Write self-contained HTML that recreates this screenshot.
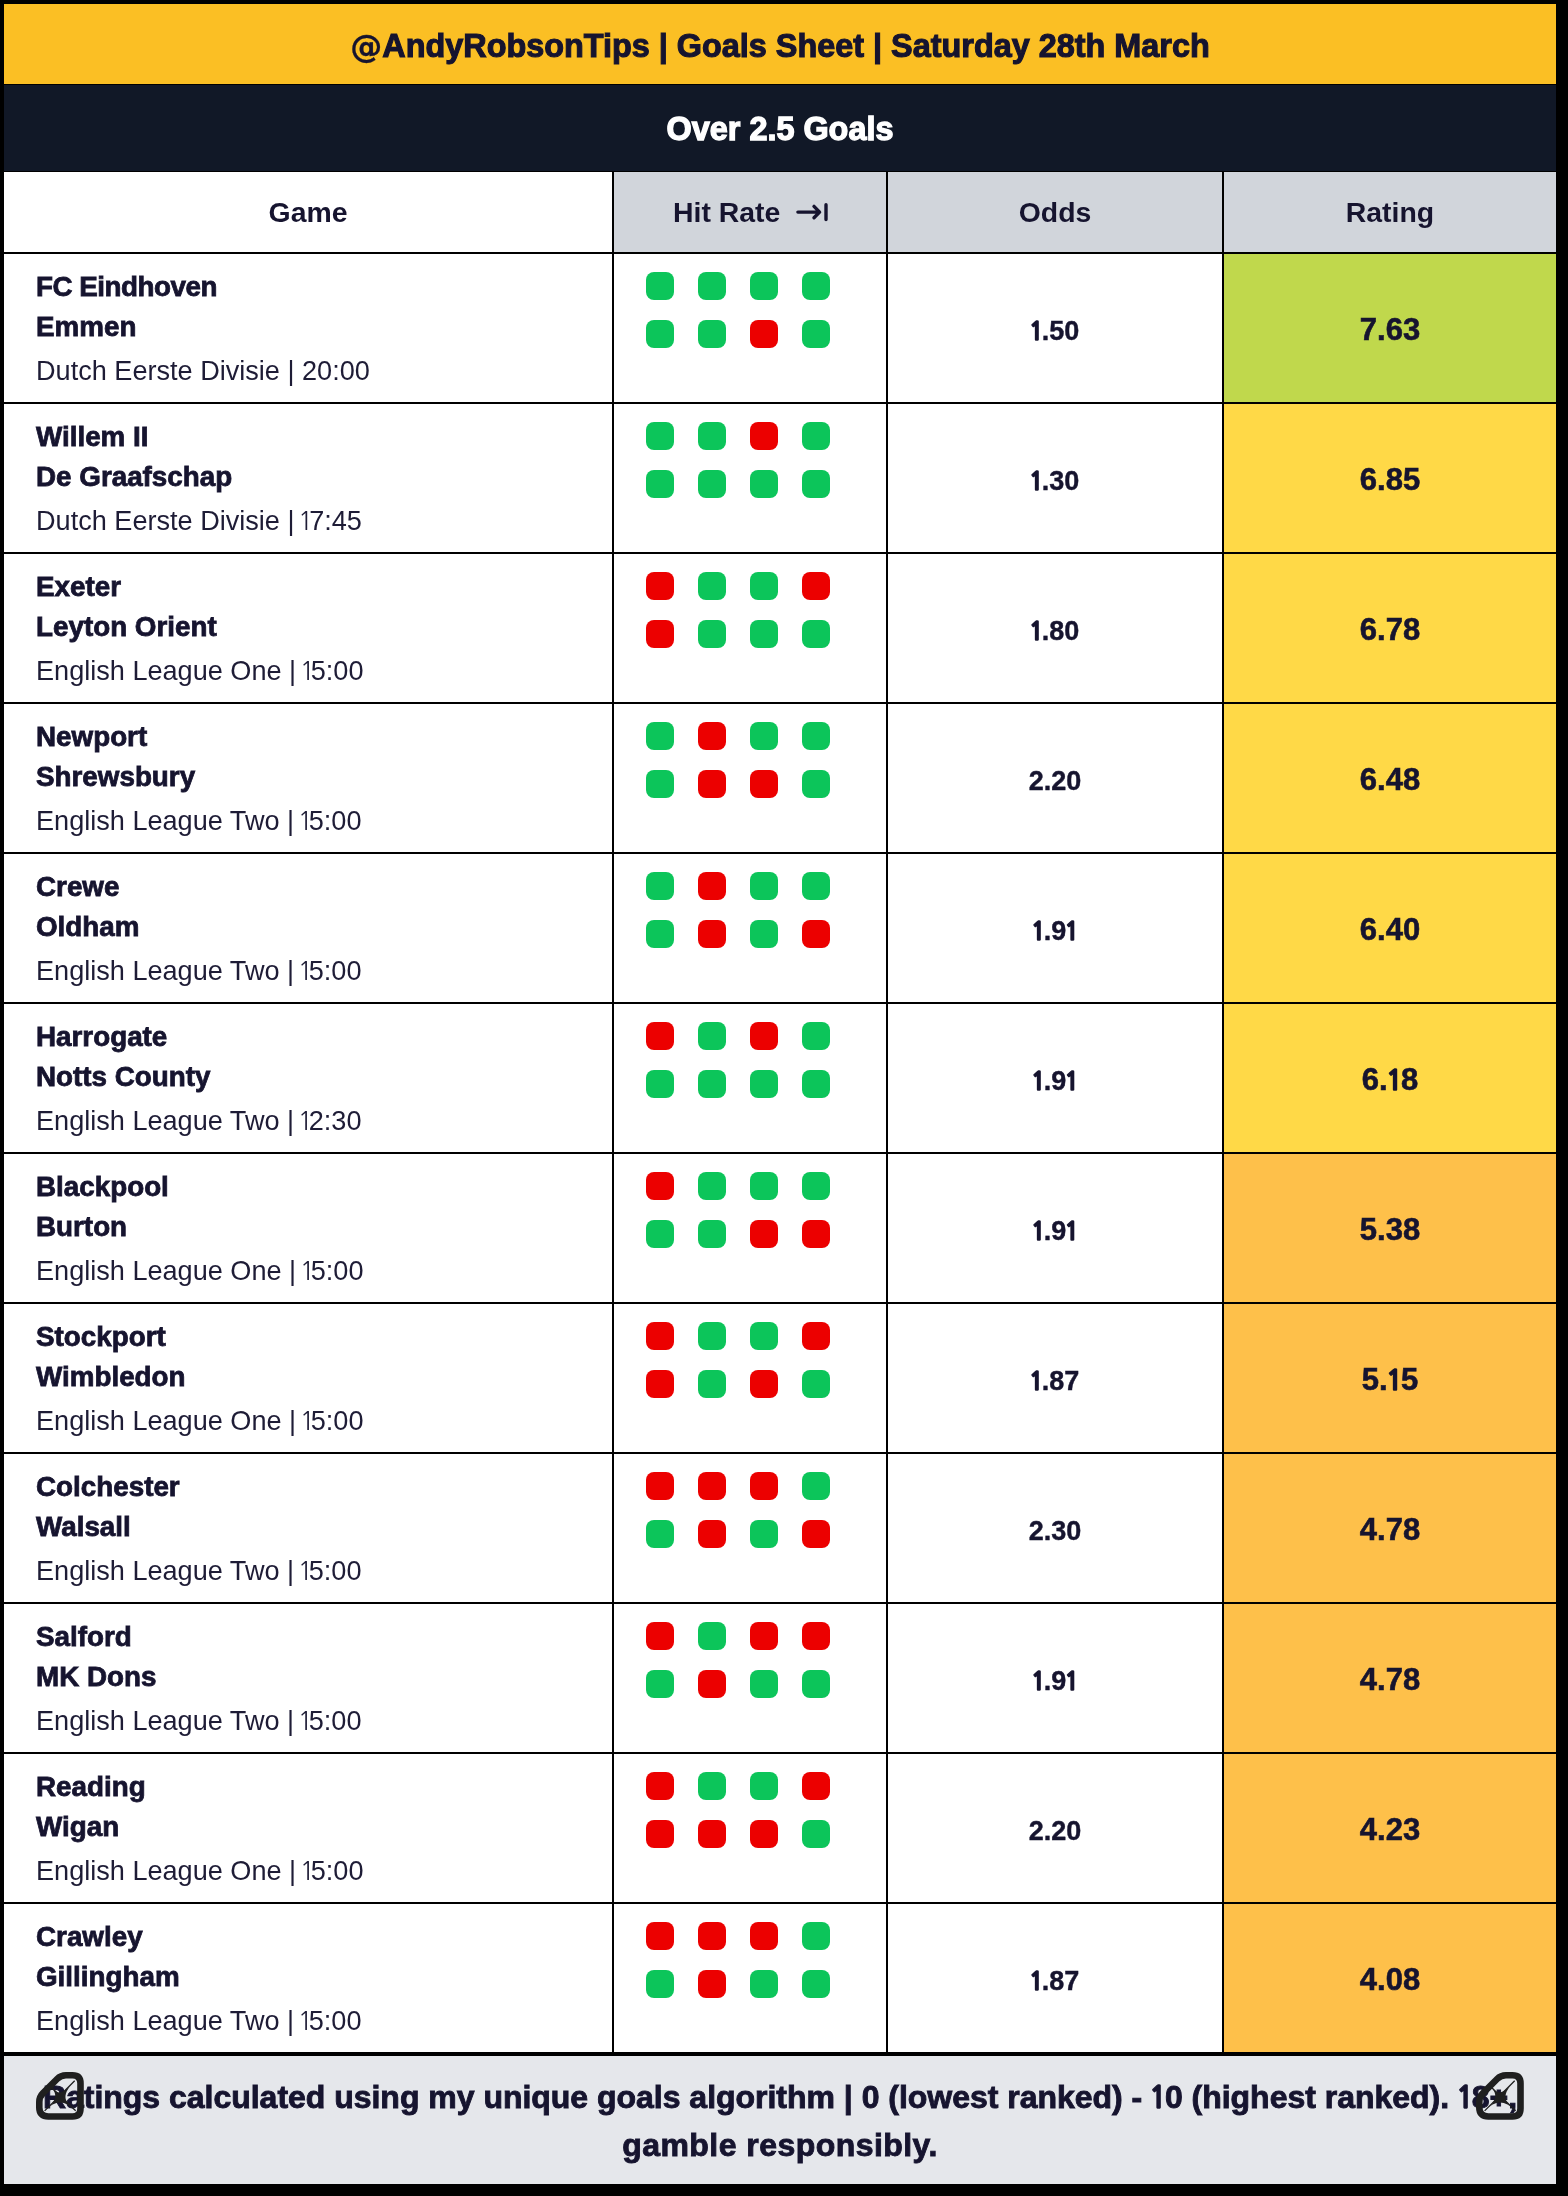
<!DOCTYPE html>
<html>
<head>
<meta charset="utf-8">
<style>
html,body{margin:0;padding:0;}
body{width:1568px;height:2196px;background:#000;position:relative;overflow:hidden;font-family:"Liberation Sans",Arial,sans-serif;color:#16142f;}
.card{position:absolute;left:4px;top:4px;width:1552px;height:2180px;background:#fff;overflow:hidden;}
.title{position:absolute;left:0;top:0;width:1552px;height:80px;background:#fbbf24;}
.title span{position:absolute;left:0;width:1552px;text-align:center;top:26px;font-size:32.4px;line-height:32px;font-weight:700;white-space:nowrap;}
.sub{position:absolute;left:0;top:80px;width:1552px;height:86px;background:#111827;border-top:1px solid #000;border-bottom:1px solid #000;}
.sub span{position:absolute;left:0;width:1552px;text-align:center;top:28px;font-size:32.4px;line-height:33px;font-weight:700;color:#fff;white-space:nowrap;}
.hdr{position:absolute;left:0;top:168px;width:1552px;height:80px;z-index:1;}
.row{position:absolute;left:0;width:1552px;height:148px;}
.c{position:absolute;top:0;height:100%;}
.c1{left:0;width:608px;background:#fff;}
.c2{left:610px;width:272px;background:#fff;}
.c3{left:884px;width:334px;background:#fff;}
.c4{left:1220px;width:332px;background:#fff;}
.hdr .c{background:#d1d5db;}
.hdr .c1{background:#fff;}
.hdr .c span{position:absolute;left:0;right:0;text-align:center;top:26px;font-size:28.4px;line-height:28px;font-weight:700;white-space:nowrap;}
.lines{position:absolute;left:0;top:168px;width:1552px;height:1884px;background:#000;}
.t{position:absolute;left:32px;font-size:27.8px;line-height:27px;font-weight:700;white-space:nowrap;}
.t1{top:19px;}
.t2{top:59px;}
.lg{position:absolute;left:32px;top:103px;font-size:27.1px;line-height:28px;font-weight:400;white-space:nowrap;color:#1e1c36;}
.dots{position:absolute;left:32px;top:18px;width:184px;height:76px;}
.d{position:absolute;width:28px;height:28px;border-radius:8px;background:#0cc55a;}
.d.r{background:#ec0000;}
.odds{position:absolute;left:0;right:0;text-align:center;top:64px;font-size:27px;line-height:27px;font-weight:700;}
.rt{position:absolute;left:0;right:0;text-align:center;top:60px;font-size:31px;line-height:31px;font-weight:700;}
.g{background:#c0d84c !important;}
.y{background:#ffd947 !important;}
.o{background:#fec04a !important;}
.foot{position:absolute;left:0;top:2052px;width:1552px;height:128px;background:#e5e7eb;}
.foot p{position:absolute;left:0;width:1552px;margin:0;text-align:center;font-size:32px;line-height:32px;letter-spacing:-0.02px;font-weight:700;white-space:nowrap;}
.ico{position:absolute;left:0;top:0;}
.fi{position:absolute;top:16px;width:48px;height:48px;overflow:visible;}
.title span{-webkit-text-stroke:1.1px #16142f;}
.sub span{-webkit-text-stroke:1.3px #fff;}
.hdr .c span{-webkit-text-stroke:0px #16142f;}
.t{-webkit-text-stroke:0.8px #16142f;}
.rt{-webkit-text-stroke:0.6px #16142f;}
.odds{-webkit-text-stroke:0.4px #16142f;}
.foot p{-webkit-text-stroke:0.9px #16142f;}
.n1{font-family:"NanumGothic","WenQuanYi Zen Hei",sans-serif;line-height:0;margin:0 -2px;font-size:0.92em;}
.lg .n1{margin:0 -4px;}
.odds .n1,.rt .n1,.foot .n1{-webkit-text-stroke-width:1.3px;}
.title span,.sub span,.hdr span,.t,.lg,.odds,.rt,.foot p{will-change:transform;}
.title .at{font-family:"DejaVu Sans",sans-serif;font-size:32px;-webkit-text-stroke:0.3px #16142f;line-height:0;position:static;}
</style>
</head>
<body>
<div class="card">
  <div class="title"><span><span class="at">@</span>AndyRobsonTips | Goals Sheet | Saturday 28th March</span></div>
  <div class="sub"><span>Over 2.5 Goals</span></div>
  <div class="hdr">
    <div class="c c1"><span>Game</span></div>
    <div class="c c2"><span style="left:59px;right:auto;text-align:left">Hit Rate</span><svg class="ico" width="272" height="80" viewBox="0 0 272 80"><path d="M183.9 40.1H205.2M200 34.4L205.6 40.1L200 45.8M212 32.8V47.6" fill="none" stroke="#16142f" stroke-width="3.4" stroke-linecap="round" stroke-linejoin="round"/></svg></div>
    <div class="c c3"><span>Odds</span></div>
    <div class="c c4"><span>Rating</span></div>
  </div>
  <div class="lines"></div>
  <div id="rows">
  <div class="row" style="top:250px">
    <div class="c c1"><span class="t t1"><span style="letter-spacing:-0.5px">FC Eindhoven</span></span><span class="t t2">Emmen</span><span class="lg">Dutch Eerste Divisie | 20:00</span></div>
    <div class="c c2"><div class="dots"><i class="d" style="left:0px;top:0px"></i><i class="d" style="left:52px;top:0px"></i><i class="d" style="left:104px;top:0px"></i><i class="d" style="left:156px;top:0px"></i><i class="d" style="left:0px;top:48px"></i><i class="d" style="left:52px;top:48px"></i><i class="d r" style="left:104px;top:48px"></i><i class="d" style="left:156px;top:48px"></i></div></div>
    <div class="c c3"><span class="odds"><span class="n1">1</span>.50</span></div>
    <div class="c c4 g"><span class="rt">7.63</span></div>
  </div>
  <div class="row" style="top:400px">
    <div class="c c1"><span class="t t1">Willem II</span><span class="t t2">De Graafschap</span><span class="lg">Dutch Eerste Divisie | <span class="n1">1</span>7:45</span></div>
    <div class="c c2"><div class="dots"><i class="d" style="left:0px;top:0px"></i><i class="d" style="left:52px;top:0px"></i><i class="d r" style="left:104px;top:0px"></i><i class="d" style="left:156px;top:0px"></i><i class="d" style="left:0px;top:48px"></i><i class="d" style="left:52px;top:48px"></i><i class="d" style="left:104px;top:48px"></i><i class="d" style="left:156px;top:48px"></i></div></div>
    <div class="c c3"><span class="odds"><span class="n1">1</span>.30</span></div>
    <div class="c c4 y"><span class="rt">6.85</span></div>
  </div>
  <div class="row" style="top:550px">
    <div class="c c1"><span class="t t1">Exeter</span><span class="t t2">Leyton Orient</span><span class="lg">English League One | <span class="n1">1</span>5:00</span></div>
    <div class="c c2"><div class="dots"><i class="d r" style="left:0px;top:0px"></i><i class="d" style="left:52px;top:0px"></i><i class="d" style="left:104px;top:0px"></i><i class="d r" style="left:156px;top:0px"></i><i class="d r" style="left:0px;top:48px"></i><i class="d" style="left:52px;top:48px"></i><i class="d" style="left:104px;top:48px"></i><i class="d" style="left:156px;top:48px"></i></div></div>
    <div class="c c3"><span class="odds"><span class="n1">1</span>.80</span></div>
    <div class="c c4 y"><span class="rt">6.78</span></div>
  </div>
  <div class="row" style="top:700px">
    <div class="c c1"><span class="t t1">Newport</span><span class="t t2">Shrewsbury</span><span class="lg">English League Two | <span class="n1">1</span>5:00</span></div>
    <div class="c c2"><div class="dots"><i class="d" style="left:0px;top:0px"></i><i class="d r" style="left:52px;top:0px"></i><i class="d" style="left:104px;top:0px"></i><i class="d" style="left:156px;top:0px"></i><i class="d" style="left:0px;top:48px"></i><i class="d r" style="left:52px;top:48px"></i><i class="d r" style="left:104px;top:48px"></i><i class="d" style="left:156px;top:48px"></i></div></div>
    <div class="c c3"><span class="odds">2.20</span></div>
    <div class="c c4 y"><span class="rt">6.48</span></div>
  </div>
  <div class="row" style="top:850px">
    <div class="c c1"><span class="t t1">Crewe</span><span class="t t2">Oldham</span><span class="lg">English League Two | <span class="n1">1</span>5:00</span></div>
    <div class="c c2"><div class="dots"><i class="d" style="left:0px;top:0px"></i><i class="d r" style="left:52px;top:0px"></i><i class="d" style="left:104px;top:0px"></i><i class="d" style="left:156px;top:0px"></i><i class="d" style="left:0px;top:48px"></i><i class="d r" style="left:52px;top:48px"></i><i class="d" style="left:104px;top:48px"></i><i class="d r" style="left:156px;top:48px"></i></div></div>
    <div class="c c3"><span class="odds"><span class="n1">1</span>.9<span class="n1">1</span></span></div>
    <div class="c c4 y"><span class="rt">6.40</span></div>
  </div>
  <div class="row" style="top:1000px">
    <div class="c c1"><span class="t t1">Harrogate</span><span class="t t2">Notts County</span><span class="lg">English League Two | <span class="n1">1</span>2:30</span></div>
    <div class="c c2"><div class="dots"><i class="d r" style="left:0px;top:0px"></i><i class="d" style="left:52px;top:0px"></i><i class="d r" style="left:104px;top:0px"></i><i class="d" style="left:156px;top:0px"></i><i class="d" style="left:0px;top:48px"></i><i class="d" style="left:52px;top:48px"></i><i class="d" style="left:104px;top:48px"></i><i class="d" style="left:156px;top:48px"></i></div></div>
    <div class="c c3"><span class="odds"><span class="n1">1</span>.9<span class="n1">1</span></span></div>
    <div class="c c4 y"><span class="rt">6.<span class="n1">1</span>8</span></div>
  </div>
  <div class="row" style="top:1150px">
    <div class="c c1"><span class="t t1">Blackpool</span><span class="t t2">Burton</span><span class="lg">English League One | <span class="n1">1</span>5:00</span></div>
    <div class="c c2"><div class="dots"><i class="d r" style="left:0px;top:0px"></i><i class="d" style="left:52px;top:0px"></i><i class="d" style="left:104px;top:0px"></i><i class="d" style="left:156px;top:0px"></i><i class="d" style="left:0px;top:48px"></i><i class="d" style="left:52px;top:48px"></i><i class="d r" style="left:104px;top:48px"></i><i class="d r" style="left:156px;top:48px"></i></div></div>
    <div class="c c3"><span class="odds"><span class="n1">1</span>.9<span class="n1">1</span></span></div>
    <div class="c c4 o"><span class="rt">5.38</span></div>
  </div>
  <div class="row" style="top:1300px">
    <div class="c c1"><span class="t t1">Stockport</span><span class="t t2">Wimbledon</span><span class="lg">English League One | <span class="n1">1</span>5:00</span></div>
    <div class="c c2"><div class="dots"><i class="d r" style="left:0px;top:0px"></i><i class="d" style="left:52px;top:0px"></i><i class="d" style="left:104px;top:0px"></i><i class="d r" style="left:156px;top:0px"></i><i class="d r" style="left:0px;top:48px"></i><i class="d" style="left:52px;top:48px"></i><i class="d r" style="left:104px;top:48px"></i><i class="d" style="left:156px;top:48px"></i></div></div>
    <div class="c c3"><span class="odds"><span class="n1">1</span>.87</span></div>
    <div class="c c4 o"><span class="rt">5.<span class="n1">1</span>5</span></div>
  </div>
  <div class="row" style="top:1450px">
    <div class="c c1"><span class="t t1">Colchester</span><span class="t t2">Walsall</span><span class="lg">English League Two | <span class="n1">1</span>5:00</span></div>
    <div class="c c2"><div class="dots"><i class="d r" style="left:0px;top:0px"></i><i class="d r" style="left:52px;top:0px"></i><i class="d r" style="left:104px;top:0px"></i><i class="d" style="left:156px;top:0px"></i><i class="d" style="left:0px;top:48px"></i><i class="d r" style="left:52px;top:48px"></i><i class="d" style="left:104px;top:48px"></i><i class="d r" style="left:156px;top:48px"></i></div></div>
    <div class="c c3"><span class="odds">2.30</span></div>
    <div class="c c4 o"><span class="rt">4.78</span></div>
  </div>
  <div class="row" style="top:1600px">
    <div class="c c1"><span class="t t1">Salford</span><span class="t t2">MK Dons</span><span class="lg">English League Two | <span class="n1">1</span>5:00</span></div>
    <div class="c c2"><div class="dots"><i class="d r" style="left:0px;top:0px"></i><i class="d" style="left:52px;top:0px"></i><i class="d r" style="left:104px;top:0px"></i><i class="d r" style="left:156px;top:0px"></i><i class="d" style="left:0px;top:48px"></i><i class="d r" style="left:52px;top:48px"></i><i class="d" style="left:104px;top:48px"></i><i class="d" style="left:156px;top:48px"></i></div></div>
    <div class="c c3"><span class="odds"><span class="n1">1</span>.9<span class="n1">1</span></span></div>
    <div class="c c4 o"><span class="rt">4.78</span></div>
  </div>
  <div class="row" style="top:1750px">
    <div class="c c1"><span class="t t1">Reading</span><span class="t t2">Wigan</span><span class="lg">English League One | <span class="n1">1</span>5:00</span></div>
    <div class="c c2"><div class="dots"><i class="d r" style="left:0px;top:0px"></i><i class="d" style="left:52px;top:0px"></i><i class="d" style="left:104px;top:0px"></i><i class="d r" style="left:156px;top:0px"></i><i class="d r" style="left:0px;top:48px"></i><i class="d r" style="left:52px;top:48px"></i><i class="d r" style="left:104px;top:48px"></i><i class="d" style="left:156px;top:48px"></i></div></div>
    <div class="c c3"><span class="odds">2.20</span></div>
    <div class="c c4 o"><span class="rt">4.23</span></div>
  </div>
  <div class="row" style="top:1900px">
    <div class="c c1"><span class="t t1">Crawley</span><span class="t t2">Gillingham</span><span class="lg">English League Two | <span class="n1">1</span>5:00</span></div>
    <div class="c c2"><div class="dots"><i class="d r" style="left:0px;top:0px"></i><i class="d r" style="left:52px;top:0px"></i><i class="d r" style="left:104px;top:0px"></i><i class="d" style="left:156px;top:0px"></i><i class="d" style="left:0px;top:48px"></i><i class="d r" style="left:52px;top:48px"></i><i class="d" style="left:104px;top:48px"></i><i class="d" style="left:156px;top:48px"></i></div></div>
    <div class="c c3"><span class="odds"><span class="n1">1</span>.87</span></div>
    <div class="c c4 o"><span class="rt">4.08</span></div>
  </div>
  </div>
  <div class="foot">
    <p style="top:25px">Ratings calculated using my unique goals algorithm | 0 (lowest ranked) - <span class="n1 fn">1</span>0 (highest ranked). <span class="n1 fn">1</span>8+,</p>
    <p style="top:73px;letter-spacing:0.45px">gamble responsibly.</p>
    <svg class="fi" style="left:32px" viewBox="0 0 48 48"><path d="M3.3 30Q3.3 24.8 7 21.1L21.1 7Q24.8 3.3 30 3.3H36.5Q44.5 3.3 44.5 11.3V36.5Q44.5 44.5 36.5 44.5H12.3Q3.3 44.5 3.3 35.5Z" fill="none" stroke="#1f1f1f" stroke-width="6.6" stroke-linejoin="round"/><path d="M15 15C21 23 27 23 38.7 8.8C26.3 22 26.3 29 39.7 38.7C28 27.7 20 27.7 8.6 38.9C21.5 29 21.5 22 15 15Z" fill="#1f1f1f"/><path d="M8.6 38.9L38.7 8.8M15 15L39.7 38.7" stroke="#1f1f1f" stroke-width="1.3"/></svg>
    <svg class="fi" style="left:1472px" viewBox="0 0 48 48"><path d="M3.3 30Q3.3 24.8 7 21.1L21.1 7Q24.8 3.3 30 3.3H36.5Q44.5 3.3 44.5 11.3V36.5Q44.5 44.5 36.5 44.5H12.3Q3.3 44.5 3.3 35.5Z" fill="none" stroke="#1f1f1f" stroke-width="6.6" stroke-linejoin="round"/><path d="M15 15C21 23 27 23 38.7 8.8C26.3 22 26.3 29 39.7 38.7C28 27.7 20 27.7 8.6 38.9C21.5 29 21.5 22 15 15Z" fill="#1f1f1f"/><path d="M8.6 38.9L38.7 8.8M15 15L39.7 38.7" stroke="#1f1f1f" stroke-width="1.3"/></svg>
  </div>
</div>
</body>
</html>
